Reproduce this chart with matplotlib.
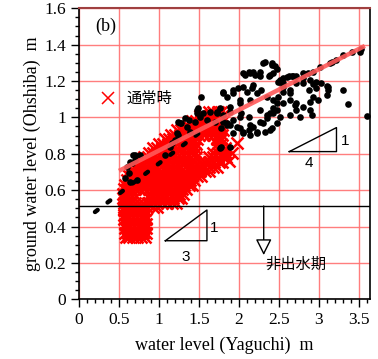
import matplotlib
matplotlib.use("Agg")
import matplotlib.pyplot as plt
from matplotlib.ticker import MultipleLocator, FormatStrFormatter

plt.rcParams["font.family"] = ["Liberation Serif", "DejaVu Serif"]
jp = ["Noto Sans CJK JP", "DejaVu Sans"]

# black dots (flood period)
black_x = [2.33, 2.41, 2.47, 2.30, 2.41, 2.45, 2.43, 2.05, 2.12, 2.18, 2.26, 2.07, 2.14, 2.20,
           2.26, 2.39, 2.37, 2.49, 2.51, 2.60, 2.66, 2.72, 2.80, 2.87, 2.93, 3.01, 2.80, 2.89,
           2.97, 3.03, 3.10, 3.12, 3.30, 3.37, 3.60, 3.16, 3.30, 3.41, 3.53, 3.14, 3.22, 3.51,
           2.55, 2.51, 2.62, 2.68, 2.55, 2.72, 2.80, 2.93, 2.97, 2.88, 2.64, 2.55, 3.12, 3.10,
           2.47, 2.55, 2.70, 2.72, 2.89, 2.91, 2.47, 2.39,
           1.80, 1.85, 1.93, 1.99, 2.01, 2.10, 2.16, 2.22, 2.28, 2.35, 2.43, 2.49, 2.55, 2.64,
           2.64, 2.72, 2.80, 2.89, 2.93, 2.99, 2.76, 2.64, 2.51, 2.43, 2.35, 2.26, 2.18, 2.12,
           2.14, 2.22, 2.33, 2.41, 2.47, 2.01, 1.93, 1.85, 1.78, 1.97, 2.05, 1.89, 1.80, 1.53,
           1.47, 1.51, 1.60, 1.70, 1.64, 1.78, 1.89, 1.80, 1.93, 2.05, 2.18, 2.14, 2.01, 1.89,
           1.76, 1.49, 1.55, 1.72, 2.03, 2.12, 2.26, 2.35, 2.43, 2.30, 2.14, 2.01, 2.05, 2.22,
           2.39, 1.89, 1.93, 1.80, 1.45,
           1.26, 1.37, 1.35, 1.39, 1.22, 1.20, 1.14, 1.08, 0.76, 0.64, 0.70, 0.70, 0.66, 0.60,
           1.24, 1.33, 0.575, 0.62, 0.68, 0.64, 0.72, 1.16, 1.24, 1.28, 1.47, 1.72, 1.85, 1.76]
black_y = [1.307, 1.289, 1.265, 1.298, 1.298, 1.280, 1.243, 1.243, 1.252, 1.247, 1.247, 1.234,
           1.243, 1.234, 1.225, 1.234, 1.228, 1.197, 1.206, 1.220, 1.225, 1.228, 1.243, 1.243,
           1.252, 1.276, 1.216, 1.206, 1.197, 1.188, 1.173, 1.151, 1.151, 1.074, 1.010, 1.307,
           1.344, 1.362, 1.375, 1.298, 1.316, 1.362, 1.216, 1.197, 1.225, 1.228, 1.188, 1.188,
           1.188, 1.184, 1.160, 1.151, 1.133, 1.142, 1.169, 1.124, 1.078, 1.078, 1.069, 1.041,
           1.041, 1.014, 1.041, 1.023,
           1.142, 1.114, 1.133, 1.160, 1.096, 1.142, 1.160, 1.133, 1.151, 1.114, 1.096, 1.114,
           1.169, 1.151, 1.096, 1.078, 1.059, 1.087, 1.114, 1.096, 1.004, 1.014, 1.004, 1.023,
           0.996, 0.977, 0.949, 0.931, 0.904, 0.913, 0.922, 0.941, 0.968, 1.004, 0.986, 0.968,
           0.941, 0.949, 0.922, 1.032, 1.014, 1.114, 1.041, 1.004, 0.986, 0.977, 1.032, 0.839,
           0.839, 1.133, 1.151, 1.169, 1.178, 1.096, 1.078, 1.059, 1.050, 1.050, 1.023, 1.032,
           1.023, 1.004, 1.041, 1.014, 1.050, 0.968, 0.959, 0.941, 0.913, 0.922, 0.931, 0.959,
           0.913, 0.977, 0.977,
           0.968, 0.986, 0.949, 0.922, 0.913, 0.876, 0.839, 0.794, 0.794, 0.757, 0.766, 0.794,
           0.748, 0.729, 0.977, 0.997, 0.666, 0.693, 0.794, 0.647, 0.656, 0.858, 0.904, 0.968,
           1.023, 1.023, 0.959, 0.831]

# red crosses (normal period), row by row: y level -> x positions
red_levels = [0.345, 0.365, 0.39, 0.415, 0.44, 0.465, 0.49, 0.51, 0.53, 0.555, 0.58, 0.605,
              0.63, 0.655, 0.68, 0.705, 0.73, 0.755, 0.78, 0.805, 0.83, 0.855, 0.88, 0.905,
              0.93, 0.955, 0.98, 1.005, 1.03]
red_rows = [
    [0.59, 0.63, 0.68, 0.73, 0.78, 0.82],
    [0.57, 0.61, 0.66, 0.71, 0.76, 0.80, 0.84],
    [0.57, 0.61, 0.66, 0.71, 0.76, 0.80, 0.84],
    [0.57, 0.61, 0.66, 0.71, 0.76, 0.80, 0.84],
    [0.56, 0.60, 0.65, 0.70, 0.75, 0.80, 0.84],
    [0.56, 0.60, 0.65, 0.70, 0.75, 0.80, 0.83],
    [0.56, 0.60, 0.65, 0.70, 0.75, 0.80, 0.83],
    [0.56, 0.60, 0.65, 0.70, 0.75, 0.80, 0.85, 0.92, 0.98],
    [0.56, 0.60, 0.65, 0.70, 0.75, 0.80, 0.86, 0.92, 0.98, 1.04, 1.10, 1.16, 1.21],
    [0.55, 0.59, 0.64, 0.69, 0.88, 0.94, 1.00, 1.06, 1.12, 1.18, 1.24, 1.28],
    [0.55, 0.59, 0.64, 0.69, 0.89, 0.95, 1.01, 1.07, 1.13, 1.19, 1.25, 1.30],
    [0.56, 0.60, 0.65, 0.70, 0.75, 0.81, 0.87, 0.93, 0.99, 1.05, 1.11, 1.17, 1.23, 1.29, 1.34],
    [0.58, 0.62, 0.67, 0.72, 0.77, 0.83, 0.89, 0.95, 1.01, 1.07, 1.13, 1.19, 1.25, 1.31, 1.37,
     1.41],
    [0.60, 0.64, 0.69, 0.74, 0.79, 0.85, 0.91, 0.97, 1.03, 1.09, 1.15, 1.21, 1.27, 1.33, 1.39,
     1.44],
    [0.62, 0.66, 0.71, 0.76, 0.81, 0.87, 0.93, 0.99, 1.05, 1.11, 1.17, 1.23, 1.29, 1.35, 1.41,
     1.47, 1.52],
    [0.65, 0.69, 0.74, 0.79, 0.85, 0.91, 0.97, 1.03, 1.09, 1.15, 1.21, 1.27, 1.33, 1.39, 1.45,
     1.51, 1.57, 1.62],
    [0.69, 0.73, 0.78, 0.84, 0.90, 0.96, 1.02, 1.08, 1.14, 1.20, 1.26, 1.32, 1.38, 1.44, 1.50,
     1.56, 1.62, 1.68, 1.73],
    [0.75, 0.79, 0.85, 0.91, 0.97, 1.03, 1.09, 1.15, 1.21, 1.27, 1.33, 1.39, 1.45, 1.51, 1.57,
     1.63, 1.69, 1.75, 1.79],
    [0.81, 0.86, 0.92, 0.98, 1.04, 1.10, 1.16, 1.22, 1.28, 1.34, 1.40, 1.46, 1.62, 1.68, 1.74,
     1.80, 1.84],
    [0.87, 0.92, 0.98, 1.04, 1.10, 1.16, 1.22, 1.28, 1.34, 1.40, 1.45, 1.68, 1.74, 1.80, 1.84],
    [0.93, 0.98, 1.04, 1.10, 1.16, 1.22, 1.28, 1.34, 1.40, 1.45, 1.72, 1.78, 1.82],
    [1.00, 1.05, 1.11, 1.17, 1.23, 1.29, 1.35, 1.41, 1.46, 1.72, 1.78],
    [1.07, 1.12, 1.18, 1.24, 1.30, 1.36, 1.42, 1.47, 1.72, 1.78],
    [1.15, 1.20, 1.26, 1.32, 1.38, 1.44, 1.50, 1.56, 1.62, 1.68, 1.74, 1.79],
    [1.23, 1.28, 1.34, 1.40, 1.46, 1.52, 1.58, 1.64, 1.70, 1.76, 1.80],
    [1.31, 1.36, 1.42, 1.48, 1.54, 1.60, 1.66, 1.72, 1.78],
    [1.41, 1.46, 1.52, 1.58, 1.64, 1.70, 1.76, 1.80],
    [1.51, 1.56, 1.62, 1.68, 1.74, 1.79],
    [1.63, 1.68, 1.74, 1.78],
]
red_extra_x = [1.91, 1.97, 1.88]
red_extra_y = [0.803, 0.858, 0.76]

# fitted lines
fit_x = [0.5, 3.575]
fit_y = [0.706, 1.393]
dash_x = [0.2, 1.6]
dash_y = [0.48, 0.947]
dry_level = 0.513

# slope triangles
tri3_x = [1.08, 1.60, 1.60, 1.08]
tri3_y = [0.322, 0.322, 0.491, 0.322]
tri4_x = [2.63, 3.22, 3.22, 2.63]
tri4_y = [0.812, 0.812, 0.944, 0.812]

red_x = []
red_y = []
for yv, xs in zip(red_levels, red_rows):
    red_x += xs
    red_y += [yv] * len(xs)
red_x += red_extra_x
red_y += red_extra_y

fig = plt.figure(figsize=(3.78, 3.59), dpi=100)
ax = fig.add_axes([0.209, 0.1663, 0.770, 0.8107])

ax.plot(red_x, red_y, "x", color="#ff0000", ms=8.5, mew=1.8, zorder=2)
ax.plot(black_x, black_y, "o", color="black", ms=4.8, mew=0, zorder=3)
ax.plot(dash_x, dash_y, color="black", lw=3.2, dashes=(0.75, 2.8),
        dash_capstyle="round", zorder=4)
ax.plot(fit_x, fit_y, color="#ff5a5a", lw=3.2, alpha=0.9, solid_capstyle="butt", zorder=5)
ax.axhline(dry_level, color="black", lw=1, zorder=4)

ax.plot(tri3_x, tri3_y, color="black", lw=1, zorder=6)
ax.plot(tri4_x, tri4_y, color="black", lw=1, zorder=6)
ax.text(1.64, 0.39, "1", family=["Liberation Sans"], fontsize=11, va="center")
ax.text(1.33, 0.235, "3", family=["Liberation Sans"], fontsize=11, va="center", ha="center")
ax.text(3.28, 0.868, "1", family=["Liberation Sans"], fontsize=11, va="center")
ax.text(2.87, 0.75, "4", family=["Liberation Sans"], fontsize=11, va="center", ha="center")

ax.annotate("", xy=(2.31, 0.243), xytext=(2.31, dry_level),
            arrowprops=dict(arrowstyle="-|>,head_length=0.7,head_width=0.35",
                            fc="white", ec="black", lw=1, mutation_scale=14,
                            shrinkA=0, shrinkB=0), zorder=6)
ax.text(2.33, 0.19, "非出水期", family=jp, fontsize=11, va="center")
ax.text(0.2, 1.50, "(b)", fontsize=13, va="center")

# legend entry with a thinner cross, like the original
leg_handle, = ax.plot([], [], "x", color="#ff0000", ms=8, mew=1.1)
ax.legend([leg_handle], ["通常時"], loc="center left", bbox_to_anchor=(0.02, 0.69),
          frameon=False, prop={"family": jp, "size": 11}, handletextpad=0.6,
          handlelength=1.2)

ax.set_xlim(0, 3.64)
ax.set_ylim(0, 1.6)
ax.xaxis.set_major_locator(MultipleLocator(0.5))
ax.xaxis.set_minor_locator(MultipleLocator(0.1))
ax.yaxis.set_major_locator(MultipleLocator(0.2))
ax.yaxis.set_minor_locator(MultipleLocator(0.05))
ax.xaxis.set_major_formatter(FormatStrFormatter("%g"))
ax.yaxis.set_major_formatter(FormatStrFormatter("%g"))
ax.tick_params(which="major", direction="out", length=6, width=1, labelsize=12.5)
ax.tick_params(which="minor", direction="out", length=3, width=1)
ax.grid(True, which="major", color="#ff7070", lw=1, alpha=0.9, zorder=0)
ax.set_axisbelow(True)
for s in ["left", "bottom", "right"]:
    ax.spines[s].set_linewidth(1.2)
ax.spines["top"].set_color("#a04040")
ax.spines["top"].set_linewidth(1.5)

ax.set_xlabel("water level (Yaguchi)  m", fontsize=13, labelpad=6)
ax.set_ylabel("ground water level (Ohshiba)  m", fontsize=13, labelpad=2)

fig.savefig("out.png", dpi=100)
